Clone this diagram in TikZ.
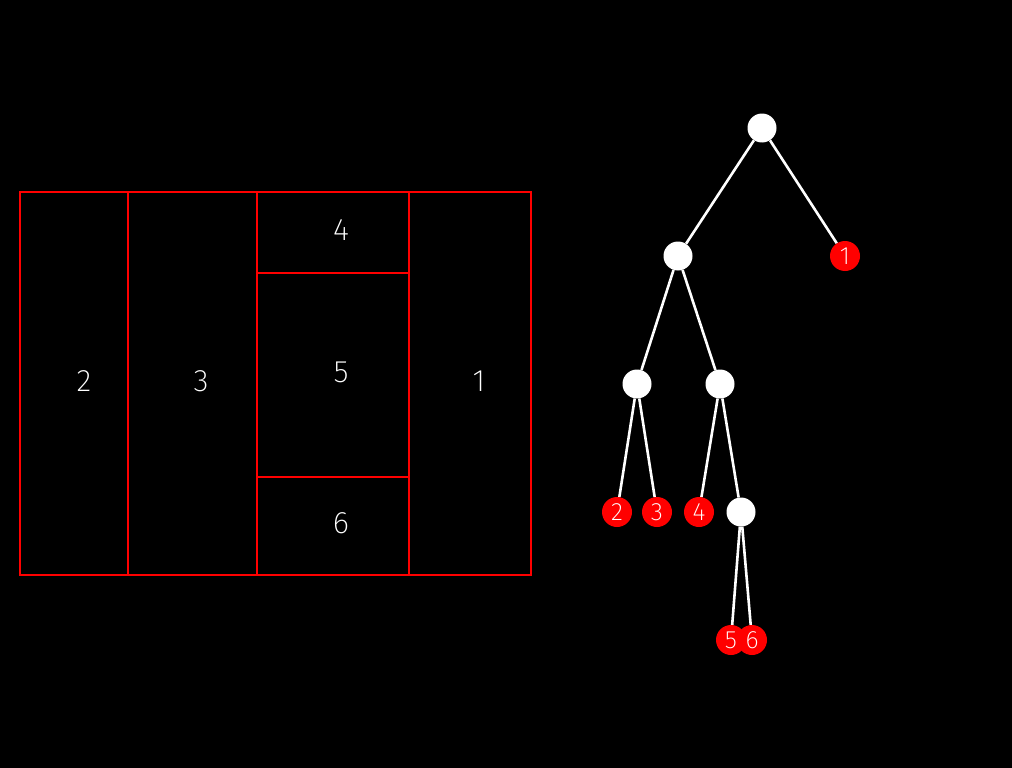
\documentclass[tikz,border=0pt]{standalone}
\usepackage{fontspec}
\newfontfamily\thinfont{Fira Sans ExtraLight}
\tikzset{
    inner/.style={circle,fill=white,minimum size=29pt,inner sep=0pt},
    leaf/.style={circle,fill=red,minimum size=30pt,inner sep=0pt,text=white,
        font=\thinfont\fontsize{25}{25}\selectfont},
    edge/.style={draw=white,line width=2.6pt},
    part/.style={draw=red,line width=1.6pt},
    plabel/.style={text=white,font=\thinfont\fontsize{31}{31}\selectfont}
}

\begin{document}
\begin{tikzpicture}[x=1pt,y=-1pt]

    \fill[black] (0,0) rectangle (1012,768);
    \useasboundingbox (0,0) rectangle (1012,768);

    %%% Partition %%%

    \draw[part] (20,192) rectangle (531,575);
    \draw[part] (128,192) -- (128,575);
    \draw[part] (257,192) -- (257,575);
    \draw[part] (409,192) -- (409,575);
    \draw[part] (257,273) -- (409,273);
    \draw[part] (257,477) -- (409,477);

    \node[plabel] (p2) at (84,381) {2};
    \node[plabel] (p3) at (201,381) {3};
    \node[plabel] (p4) at (341,230) {4};
    \node[plabel] (p5) at (341,372) {5};
    \node[plabel] (p6) at (341,523) {6};
    \node[plabel] (p1) at (479,381) {1};

    %%% Tree %%%

    \node[inner] (root) at (762,128) {};
    \node[inner] (a) at (678,256) {};
    \node[leaf] (l1) at (845,256) {1};
    \node[inner] (b) at (637,384) {};
    \node[inner] (c) at (720,384) {};
    \node[leaf] (l2) at (617,512) {2};
    \node[leaf] (l3) at (657,512) {3};
    \node[leaf] (l4) at (699,512) {4};
    \node[inner] (d) at (741,512) {};
    \node[leaf] (l5) at (731,640) {5};
    \node[leaf] (l6) at (752,640) {6};

    \draw[edge] (root) -- (a);
    \draw[edge] (root) -- (l1);
    \draw[edge] (a) -- (b);
    \draw[edge] (a) -- (c);
    \draw[edge] (b) -- (l2);
    \draw[edge] (b) -- (l3);
    \draw[edge] (c) -- (l4);
    \draw[edge] (c) -- (d);
    \draw[edge] (d) -- (l5);
    \draw[edge] (d) -- (l6);

\end{tikzpicture}
\end{document}
